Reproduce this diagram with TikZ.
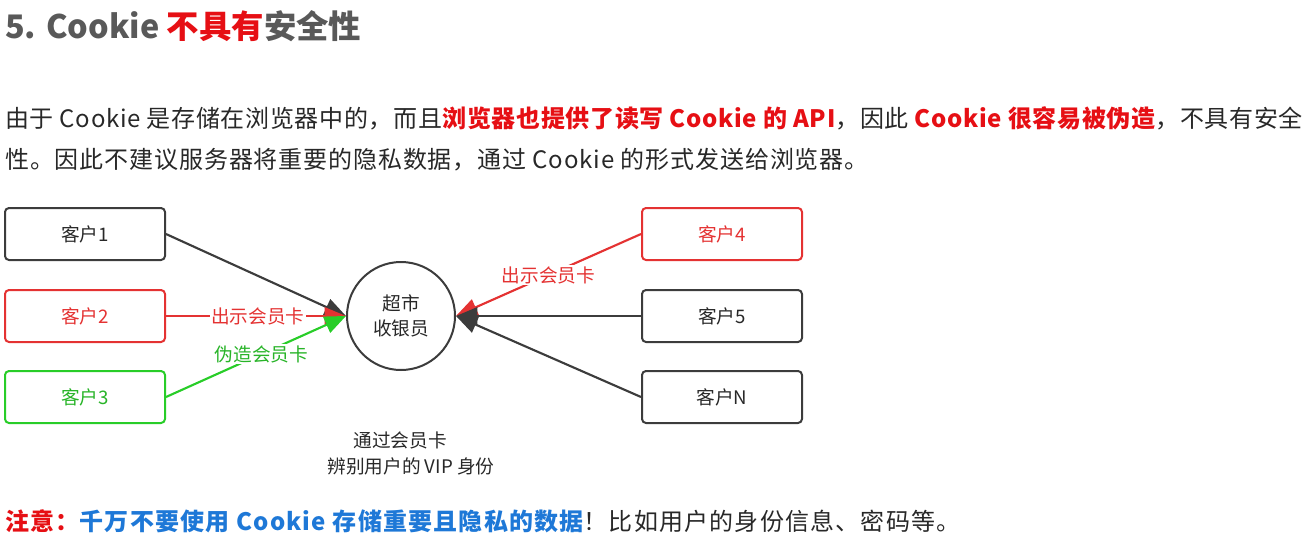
\documentclass[tikz,border=0pt]{standalone}
\usepackage{fontspec}
\setmainfont{Noto Sans CJK SC}
\usetikzlibrary{arrows.meta}
\definecolor{titlegray}{RGB}{89,89,89}
\definecolor{textdark}{RGB}{40,40,40}
\definecolor{boxdark}{RGB}{60,60,60}
\definecolor{hotred}{RGB}{230,15,20}
\definecolor{boxred}{RGB}{228,50,50}
\definecolor{boxgreen}{RGB}{40,205,40}
\definecolor{notegreen}{RGB}{40,180,40}
\definecolor{noteblue}{RGB}{30,120,215}
\newcommand{\bodyfont}{\fontsize{18pt}{22pt}\selectfont}
\newcommand{\smallfont}{\fontsize{14pt}{19pt}\selectfont}

\begin{document}
\begin{tikzpicture}[x=0.75pt,y=-0.75pt,
    client/.style={draw=boxdark,line width=1.5pt,rounded corners=3pt,minimum width=120pt,minimum height=39pt,text=textdark,font=\smallfont},
    link/.style={line width=1.6pt,-{Triangle[length=16pt,width=13pt]}},
    tag/.style={fill=white,inner sep=1pt,font=\smallfont}]
        \useasboundingbox (0,0) rectangle (1310,536);
        % heading and paragraph
        \node[anchor=west,inner sep=0,text=titlegray] (T) at (5,26) {\fontsize{24.3pt}{29pt}\selectfont\bfseries 5. Cookie {\color{hotred}不具有}安全性};
        \node[anchor=west,inner sep=0,text=textdark] (P1) at (5,118) {\bodyfont\addfontfeatures{LetterSpace=2.8}由于 Cookie 是存储在浏览器中的，而且{\bfseries\color{hotred}浏览器也提供了读写 Cookie 的 API}，因此 {\bfseries\color{hotred}Cookie 很容易被伪造}，不具有安全};
        \node[anchor=west,inner sep=0,text=textdark] (P2) at (5,160) {\bodyfont\addfontfeatures{LetterSpace=3.6}性。因此不建议服务器将重要的隐私数据，通过 Cookie 的形式发送给浏览器。};
        % clients
        \node[client] (A) at (85,234) {客户1};
        \node[client,draw=boxred,text=boxred] (B) at (85,316) {客户2};
        \node[client,draw=boxgreen,text=notegreen] (C) at (85,397) {客户3};
        \node[client,draw=boxred,text=boxred] (D) at (722,234) {客户4};
        \node[client] (E) at (722,316) {客户5};
        \node[client] (F) at (722,397) {客户N};
        \node[circle,draw=boxdark,line width=1.5pt,minimum size=81pt,align=center,text=textdark,font=\smallfont] (K) at (401,316) {超市\\收银员};
        % arrows
        \draw [link,boxdark] (A.east) -- (K.west);
        \draw [link,boxred] (B.east) -- node[tag,text=boxred,pos=0.51] {出示会员卡} (K.west);
        \draw [link,boxgreen] (C.east) -- node[tag,text=notegreen,pos=0.53] {伪造会员卡} (K.west);
        \draw [link,boxred] (D.west) -- node[tag,text=boxred,pos=0.5] {出示会员卡} (K.east);
        \draw [link,boxdark] (E.west) -- (K.east);
        \draw [link,boxdark] (F.west) -- (K.east);
        \node[text=textdark,font=\smallfont] (L1) at (400,440) {通过会员卡};
        \node[text=textdark,font=\smallfont] (L2) at (411,466) {辨别用户的 VIP 身份};
        % note
        \node[anchor=west,inner sep=0,text=textdark] (N) at (5,521) {\bodyfont\addfontfeatures{LetterSpace=5}{\bfseries\color{hotred}注意：}{\bfseries\color{noteblue}千万不要使用 Cookie 存储重要且隐私的数据}！比如用户的身份信息、密码等。};
    \end{tikzpicture}
\end{document}
